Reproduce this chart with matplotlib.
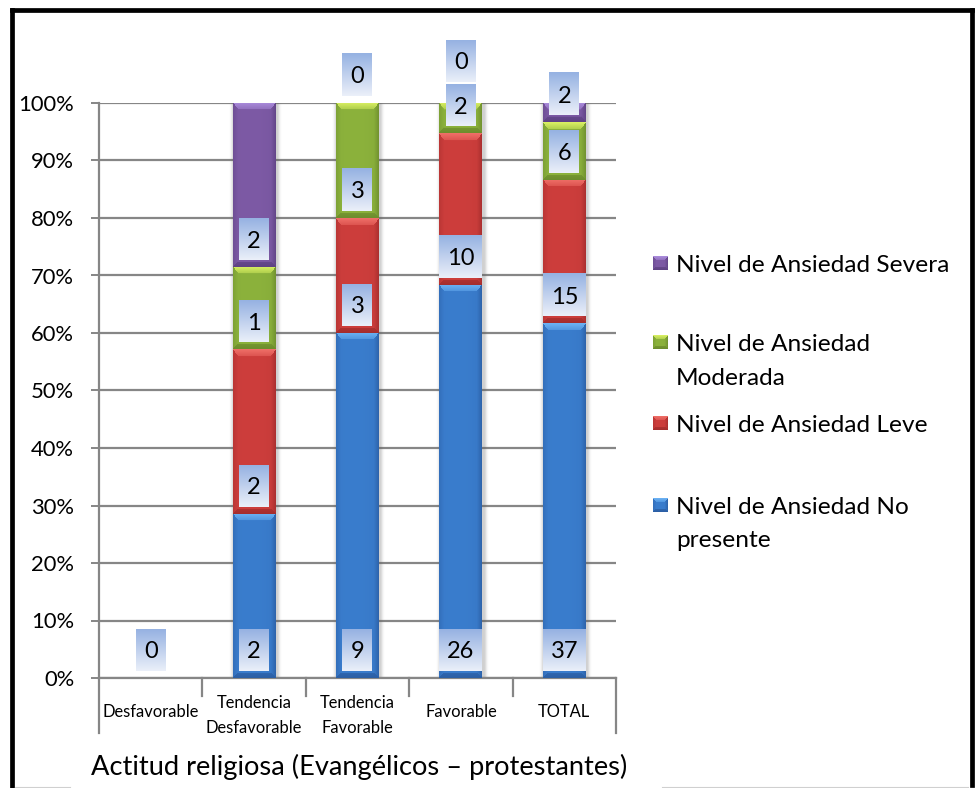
import numpy as np
import matplotlib
matplotlib.use("Agg")
import matplotlib.pyplot as plt
from matplotlib.lines import Line2D

# ---- data ---------------------------------------------------------------
categories = ["Desfavorable", "Tendencia\nDesfavorable", "Tendencia\nFavorable",
              "Favorable", "TOTAL"]
series_names = ["Nivel de Ansiedad No\npresente", "Nivel de Ansiedad Leve",
                "Nivel de Ansiedad\nModerada", "Nivel de Ansiedad Severa"]
no_presente = [0, 2, 9, 26, 37]
leve = [0, 2, 3, 10, 15]
moderada = [0, 1, 3, 2, 6]
severa = [0, 2, 0, 0, 2]
y_ticks = [0, 10, 20, 30, 40, 50, 60, 70, 80, 90, 100]
y_tick_labels = [f"{v}%" for v in y_ticks]
x_title = "Actitud religiosa (Evangélicos – protestantes)"

# ---- style --------------------------------------------------------------
FONT = "Lato"
CAP = 0.716          # cap height of the font, in em
W, H = 978, 788
base_cols = [(58, 125, 205), (205, 62, 60), (140, 178, 60), (125, 90, 165)]
top_cols = [(110, 180, 245), (240, 112, 105), (220, 242, 100), (172, 142, 222)]
dark_cols = [(38, 84, 150), (150, 40, 40), (98, 128, 40), (84, 58, 120)]
grid_col = "#868686"

fig = plt.figure(figsize=(W / 100, H / 100), dpi=100)
ax_l, ax_r, ax_t, ax_b = 99, 616, 103, 678
ax = fig.add_axes([ax_l / W, (H - ax_b) / H, (ax_r - ax_l) / W, (ax_b - ax_t) / H])
n_cat = len(categories)
xmin, xmax = -0.5, n_cat - 0.5
px_x = (xmax - xmin) / (ax_r - ax_l)   # data units per pixel (x)
px_y = 100.0 / (ax_b - ax_t)            # data units per pixel (y)
bar_w = 43 * px_x


def pt2px(pt):
    return pt * 100 / 72


def mix(c1, c2, t):
    c1 = np.asarray(c1, float)
    c2 = np.asarray(c2, float)
    t = np.asarray(t, float)[..., None]
    return c1 * (1 - t) + c2 * t


def bevel_image(w, h, base, top, dark, bt=7, bs=5, bb=5):
    """Beveled block rendered at pixel resolution."""
    w = max(int(round(w)), 2)
    h = max(int(round(h)), 2)
    r = np.arange(h)[:, None] + 0.5
    c = np.arange(w)[None, :] + 0.5
    dt = np.broadcast_to(r, (h, w))
    db = np.broadcast_to(h - r, (h, w))
    dl = np.broadcast_to(c, (h, w))
    dr = np.broadcast_to(w - c, (h, w))
    img = np.empty((h, w, 3))
    u = (c - w * 0.42) / (w / 2)
    shade = np.broadcast_to(0.10 * np.clip(np.abs(u), 0, 1) ** 2, (h, w))
    img[:] = mix(base, dark, shade)
    left = dl < bs
    img[left] = mix(base, dark, 0.30 * (1 - dl[left] / bs) + 0.05)
    right = dr < bs
    img[right] = mix(base, dark, 0.55 * (1 - dr[right] / bs) + 0.1)
    bot = (db < bb) & (db * bs <= dl * bb) & (db * bs <= dr * bb)
    img[bot] = mix(base, dark, 0.55 + 0.2 * (1 - db[bot] / bb))
    tp = (dt < bt) & (dt * bs <= dl * bt) & (dt * bs <= dr * bt)
    img[tp] = mix(top, base, 0.55 * dt[tp] / bt)
    return np.clip(img / 255.0, 0, 1)


def shadow_image(w, h, m=7, strength=0.28, sigma=2.6):
    w = int(round(w)) + 2 * m
    h = int(round(h)) + 2 * m
    r = np.arange(h)[:, None] + 0.5
    c = np.arange(w)[None, :] + 0.5
    dx = np.maximum(np.maximum(m - c, c - (w - m)), 0)
    dy = np.maximum(np.maximum(m - r, r - (h - m)), 0)
    d = np.sqrt(dx ** 2 + dy ** 2)
    a = strength * np.exp(-(d / sigma) ** 2)
    img = np.zeros((h, w, 4))
    img[..., :3] = 0.35
    img[..., 3] = a
    return img


series = [no_presente, leve, moderada, severa]
counts = np.array(series, dtype=float)
totals = counts.sum(axis=0)
pct = np.where(totals > 0, counts / np.where(totals > 0, totals, 1) * 100, 0.0)
bottoms = np.vstack([np.zeros(n_cat), np.cumsum(pct, axis=0)[:-1]])

# grid and axes styling
ax.set_xlim(xmin, xmax)
ax.set_ylim(0, 100)
ax.set_axisbelow(True)
ax.yaxis.grid(True, color=grid_col, lw=1.6)
ax.set_yticks(y_ticks)
ax.set_yticklabels(y_tick_labels, fontsize=15.8, family=FONT)
ax.tick_params(axis="y", length=5.8, width=1.4, color=grid_col, pad=12)
ax.set_xticks([])
for s in ("top", "right"):
    ax.spines[s].set_visible(False)
for s in ("left", "bottom"):
    ax.spines[s].set_color(grid_col)
    ax.spines[s].set_linewidth(1.6)

# category divider lines below the axis
for k in range(n_cat + 1):
    xb = xmin + k
    depth = 55 if k in (0, n_cat) else 18
    ax.add_line(Line2D([xb, xb], [0, -depth * px_y], color=grid_col, lw=1.6,
                       clip_on=False))

# bar shadows
for i in range(n_cat):
    if totals[i] <= 0:
        continue
    top_pct = pct[:, i].sum()
    m = 7
    sh = shadow_image(43, top_pct / px_y, m=m)
    x0 = i - bar_w / 2 - (m - 1.5) * px_x
    x1 = i + bar_w / 2 + (m + 1.5) * px_x
    ax.imshow(sh, extent=(x0, x1, -(m + 1.5) * px_y, top_pct + (m - 1.5) * px_y),
              origin="upper", aspect="auto", zorder=2.5, interpolation="bilinear")

# stacked segments
for s in range(len(series)):
    for i in range(n_cat):
        hgt = pct[s, i]
        if hgt <= 0:
            continue
        y0 = bottoms[s, i]
        img = bevel_image(43, hgt / px_y, base_cols[s], top_cols[s], dark_cols[s])
        ax.imshow(img, extent=(i - bar_w / 2, i + bar_w / 2, y0, y0 + hgt),
                  origin="upper", aspect="auto", zorder=3, interpolation="bilinear")

# value labels placed at the base of each segment
label_grad = np.linspace(0, 1, 40)[:, None]
box_img = np.clip(np.dstack([
    (150 + (234 - 150) * label_grad) / 255,
    (178 + (239 - 178) * label_grad) / 255,
    (226 + (249 - 226) * label_grad) / 255,
]), 0, 1)
label_lift_px = {(3, 3): 14}
label_pt = 17
drawn = set()
for s in range(len(series)):
    for i in range(n_cat):
        txt = str(int(counts[s, i]))
        cy = bottoms[s, i] + 28 * px_y + label_lift_px.get((s, i), 0) * px_y
        key = (i, round(cy, 3), txt)
        if key in drawn:
            continue
        drawn.add(key)
        bw = (17 + 13 * len(txt)) * px_x
        bh = 42 * px_y
        im = ax.imshow(box_img, extent=(i - bw / 2, i + bw / 2, cy - bh / 2, cy + bh / 2),
                       origin="upper", aspect="auto", zorder=5, interpolation="bilinear")
        im.set_clip_on(False)
        base_y = cy - CAP * pt2px(label_pt) / 2 * px_y
        ax.text(i, base_y, txt, ha="center", va="baseline", fontsize=label_pt,
                family=FONT, color="black", zorder=6, clip_on=False)

ax.set_xlim(xmin, xmax)
ax.set_ylim(0, 100)

# category labels (one text per line, centred in the band under the axis)
cat_pt = 11.9
for i, lab in enumerate(categories):
    lines = lab.split("\n")
    centers = [711] if len(lines) == 1 else [702, 727]
    for line, yc in zip(lines, centers):
        yb = yc + CAP * pt2px(cat_pt) / 2
        ax.text(i, -(yb - ax_b) * px_y, line, ha="center", va="baseline",
                fontsize=cat_pt, family=FONT, clip_on=False)

# axis title
title_pt = 19.6
fig.text(359 / W, 1 - (765 + CAP * pt2px(title_pt) / 2) / H, x_title,
         ha="center", va="baseline", fontsize=title_pt, family=FONT)

# legend
leg_pt = 17.6
legend_rows = [(3, [263]), (2, [342, 376]), (1, [423]), (0, [505, 538])]
for s, ycs in legend_rows:
    yc = ycs[0]
    mk = fig.add_axes([653 / W, 1 - (yc + 7) / H, 15 / W, 14 / H])
    mk.imshow(bevel_image(15, 14, base_cols[s], top_cols[s], dark_cols[s],
                          bt=4, bs=3, bb=3), aspect="auto", interpolation="bilinear")
    mk.axis("off")
    for line, y_line in zip(series_names[s].split("\n"), ycs):
        yb = y_line + CAP * pt2px(leg_pt) / 2
        fig.text(676 / W, 1 - yb / H, line, ha="left", va="baseline",
                 fontsize=leg_pt, family=FONT)

# outer frame
frame_kw = dict(color="black", lw=3.4, solid_capstyle="projecting")
fig.add_artist(Line2D([12.5 / W, 972.5 / W], [1 - 9.5 / H, 1 - 9.5 / H], **frame_kw))
fig.add_artist(Line2D([12.5 / W, 12.5 / W], [1 - 9.5 / H, 0], **frame_kw))
fig.add_artist(Line2D([972.5 / W, 972.5 / W], [1 - 9.5 / H, 1 - 785 / H], **frame_kw))
fig.add_artist(Line2D([15 / W, 70 / W], [1 - 786.5 / H] * 2, color="#d0d0d0", lw=0.8))
fig.add_artist(Line2D([662 / W, 968 / W], [1 - 786.5 / H] * 2, color="#d0d0d0", lw=0.8))

fig.savefig("out.png", dpi=100)
